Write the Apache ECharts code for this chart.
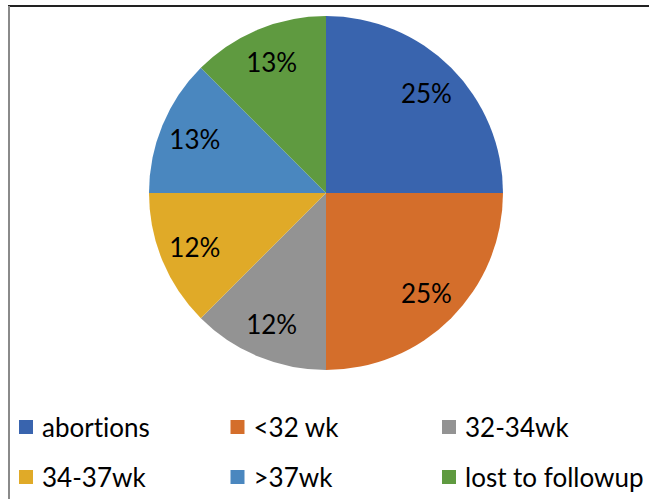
<!DOCTYPE html>
<html>
<head>
<meta charset="utf-8">
<script src="https://cdn.jsdelivr.net/npm/echarts@6/dist/echarts.min.js"></script>
<style>
html,body{margin:0;padding:0;background:#fff;}
#chart{width:649px;height:499px;font-variant-ligatures:none;}
#chart text{font-variant-ligatures:none;}
</style>
</head>
<body>
<div id="chart"></div>
<script>
var categories = ['abortions', '<32 wk', '32-34wk', '34-37wk', '>37wk', 'lost to followup'];
var values = [25, 25, 12.5, 12.5, 12.5, 12.5];
var percentLabels = ['25%', '25%', '12%', '12%', '13%', '13%'];
var colors = ['#3964AE', '#D46E2B', '#939393', '#E0AA28', '#4A87BF', '#5F9A40'];

var chart = echarts.init(document.getElementById('chart'), null, {renderer: 'svg'});

var pieData = categories.map(function (c, i) {
  return {name: c, value: values[i], itemStyle: {color: colors[i]}};
});
var labelData = categories.map(function (c, i) {
  return {name: c, value: values[i], label: {formatter: percentLabels[i]}};
});

var legends = categories.map(function (c, i) {
  return {
    data: [c],
    left: 19 + (i % 3) * 211.5,
    top: i < 3 ? 414 : 464,
    itemWidth: 14,
    itemHeight: 14,
    icon: 'rect',
    padding: 0,
    selectedMode: false,
    textStyle: {fontFamily: 'Lato', fontSize: 26, color: '#000', padding: [0, 0, 0, 4]}
  };
});

var option = {
  backgroundColor: '#fff',
  animation: false,
  legend: legends,
  graphic: [
    {type: 'line', shape: {x1: 8, y1: 6, x2: 649, y2: 6}, style: {stroke: '#222', lineWidth: 2}},
    {type: 'line', shape: {x1: 9, y1: 6, x2: 9, y2: 499}, style: {stroke: '#8a8a8a', lineWidth: 2}}
  ],
  series: [
    {
      type: 'pie',
      center: [326, 193],
      radius: [0, 177],
      startAngle: 90,
      clockwise: true,
      label: {show: false},
      labelLine: {show: false},
      itemStyle: {borderWidth: 0},
      emphasis: {disabled: true},
      data: pieData
    },
    {
      type: 'pie',
      center: [326, 193],
      radius: [101, 177],
      startAngle: 90,
      clockwise: true,
      silent: true,
      itemStyle: {color: 'rgba(0,0,0,0)', borderWidth: 0},
      label: {show: true, position: 'inside', color: '#000', fontFamily: 'Lato', fontSize: 26},
      labelLine: {show: false},
      emphasis: {disabled: true},
      data: labelData
    }
  ]
};
chart.setOption(option);
</script>
</body>
</html>
